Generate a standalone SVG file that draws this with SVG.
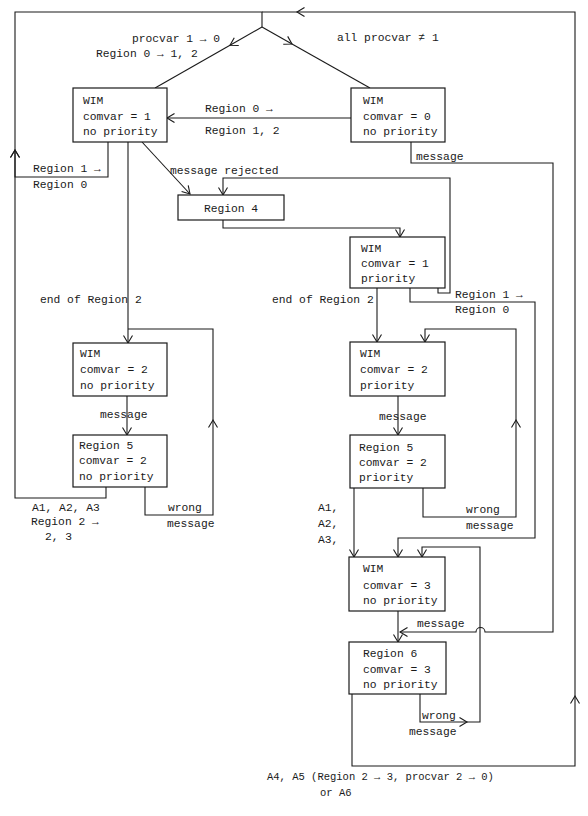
<svg xmlns="http://www.w3.org/2000/svg" width="588" height="816" viewBox="0 0 588 816">
<defs>
<marker id="arr" markerUnits="userSpaceOnUse" markerWidth="14" markerHeight="12" viewBox="-8 -6 10 12" refX="0" refY="0" orient="auto">
<path d="M-7.5,-4.5 L0,0 L-7.5,4.5" fill="none" stroke="#1a1a1a" stroke-width="1.1"/>
</marker>
</defs>
<style>
text{font-family:"Liberation Mono","DejaVu Sans Mono",monospace;font-size:11.3px;fill:#1a1a1a}
.small{font-size:10.5px}
.box{fill:#fff;stroke:#1a1a1a;stroke-width:1.2}
.c{fill:none;stroke:#1a1a1a;stroke-width:1.1}
.a{marker-end:url(#arr)}
</style>
<rect width="588" height="816" fill="#fff"/>
<g id="connectors">
<path class="c" d="M15,150 V12 H262 V27"/>
<path class="c a" d="M262,27 L230,45.3"/>
<path class="c" d="M230,45.3 L155,88"/>
<path class="c a" d="M262,27 L292,44"/>
<path class="c" d="M292,44 L370,88"/>
<path class="c a" d="M351,118 H167"/>
<path class="c a" d="M108,142 V177 H15 V150"/>
<path class="c a" d="M106,487 V498 H15 V150"/>
<path class="c a" d="M352,694 V766 H575 V696"/>
<path class="c a" d="M575,696 V12 H297"/>
<path class="c" d="M297,12 H262"/>
<path class="c a" d="M142,142 L190,194"/>
<path class="c a" d="M128,142 V343"/>
<path class="c a" d="M127,396 V435"/>
<path class="c a" d="M145,487 V515 H213 V420"/>
<path class="c" d="M213,420 V329 H128"/>
<path class="c a" d="M223,220 V228 H400 V237"/>
<path class="c a" d="M438,288 V293 H450 V178 H223 V195"/>
<path class="c a" d="M411,142 V163 H553 V632 H485 A4.5,4.5 0 0 0 476,632 H400"/>
<path class="c a" d="M377,288 V342"/>
<path class="c a" d="M410,288 V302 H535 V538 H398 V557"/>
<path class="c a" d="M398,396 V435"/>
<path class="c a" d="M423,488 V517 H516 V420"/>
<path class="c a" d="M516,420 V329 H425 V342"/>
<path class="c a" d="M354,488 V557"/>
<path class="c a" d="M398,611 V642"/>
<path class="c a" d="M420,694 V722 H467"/>
<path class="c a" d="M467,722 H480 V547 H422 V557"/>
</g>
<g id="labels">
<text x="132" y="42">procvar 1 → 0</text>
<text x="96" y="57">Region 0 → 1, 2</text>
<text x="337" y="41">all procvar ≠ 1</text>
<text x="205" y="112">Region 0 →</text>
<text x="205" y="134">Region 1, 2</text>
<text x="33" y="172">Region 1 →</text>
<text x="33" y="188">Region 0</text>
<text x="170" y="174">message rejected</text>
<text x="416" y="160">message</text>
<text x="40" y="303">end of Region 2</text>
<text x="272" y="303">end of Region 2</text>
<text x="455" y="298">Region 1 →</text>
<text x="455" y="313">Region 0</text>
<text x="100" y="418">message</text>
<text x="379" y="420">message</text>
<text x="168" y="511">wrong</text>
<text x="167" y="527">message</text>
<text x="32" y="511">A1, A2, A3</text>
<text x="31" y="525">Region 2 →</text>
<text x="45" y="540">2, 3</text>
<text x="466" y="513">wrong</text>
<text x="466" y="529">message</text>
<text x="318" y="511">A1,</text>
<text x="318" y="527">A2,</text>
<text x="318" y="543">A3,</text>
<text x="417" y="627">message</text>
<text x="422" y="719">wrong</text>
<text x="409" y="735">message</text>
<text class="small" x="267" y="780">A4, A5 (Region 2 → 3, procvar 2 → 0)</text>
<text class="small" x="320" y="796">or A6</text>
</g>
<g id="wim1">
<rect class="box" x="73" y="88" width="94" height="54"/>
<text x="83" y="104">WIM</text>
<text x="83" y="120">comvar = 1</text>
<text x="83" y="135">no priority</text>
</g>
<g id="wim0">
<rect class="box" x="351" y="88" width="94" height="54"/>
<text x="363" y="104">WIM</text>
<text x="363" y="120">comvar = 0</text>
<text x="363" y="135">no priority</text>
</g>
<g id="region4">
<rect class="box" x="178" y="195" width="106" height="25"/>
<text x="231" y="212" text-anchor="middle">Region 4</text>
</g>
<g id="wim1p">
<rect class="box" x="350" y="237" width="95" height="51"/>
<text x="361" y="252">WIM</text>
<text x="361" y="267">comvar = 1</text>
<text x="361" y="282">priority</text>
</g>
<g id="wim2">
<rect class="box" x="73" y="343" width="94" height="53"/>
<text x="80" y="357">WIM</text>
<text x="80" y="373">comvar = 2</text>
<text x="80" y="389">no priority</text>
</g>
<g id="region5">
<rect class="box" x="73" y="435" width="94" height="52"/>
<text x="79" y="449">Region 5</text>
<text x="79" y="464">comvar = 2</text>
<text x="79" y="480">no priority</text>
</g>
<g id="wim2p">
<rect class="box" x="350" y="342" width="95" height="54"/>
<text x="360" y="357">WIM</text>
<text x="360" y="373">comvar = 2</text>
<text x="360" y="389">priority</text>
</g>
<g id="region5p">
<rect class="box" x="350" y="435" width="95" height="53"/>
<text x="359" y="451">Region 5</text>
<text x="359" y="466">comvar = 2</text>
<text x="359" y="481">priority</text>
</g>
<g id="wim3">
<rect class="box" x="349" y="557" width="96" height="54"/>
<text x="363" y="572">WIM</text>
<text x="363" y="589">comvar = 3</text>
<text x="363" y="604">no priority</text>
</g>
<g id="region6">
<rect class="box" x="349" y="642" width="97" height="52"/>
<text x="363" y="657">Region 6</text>
<text x="363" y="673">comvar = 3</text>
<text x="363" y="688">no priority</text>
</g>
</svg>
